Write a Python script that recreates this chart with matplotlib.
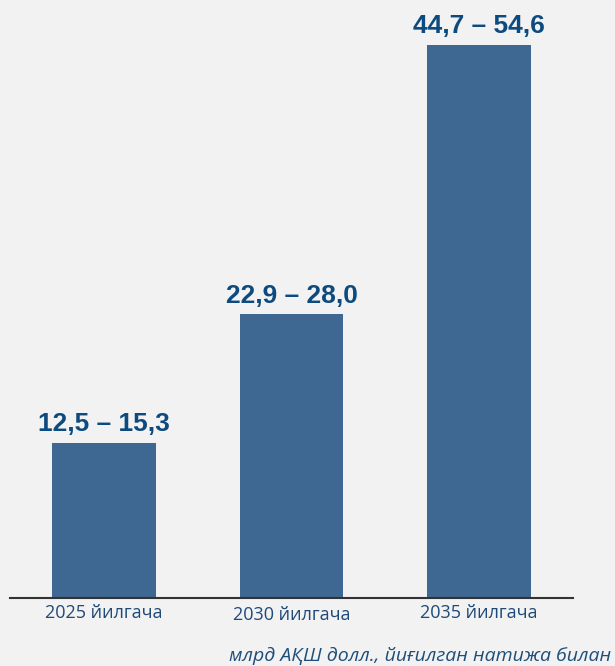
import matplotlib.pyplot as plt

categories = ["2025 йилгача", "2030 йилгача", "2035 йилгача"]
low_values = [12.5, 22.9, 44.7]
high_values = [15.3, 28.0, 54.6]
note = "млрд АҚШ долл., йиғилган натижа билан"

bg = "#F2F2F2"
bar_color = "#3E6891"
label_color = "#0D4A7E"
tick_color = "#1F4A78"

fig = plt.figure(figsize=(6.15, 6.66), dpi=100, facecolor=bg)
# axes placed in pixel terms: line from x=10 to 573, baseline at y=598
ax = fig.add_axes([10 / 615, 68 / 666, 563 / 615, 588 / 666])
ax.set_facecolor(bg)

x = list(range(len(categories)))
bars = ax.bar(x, high_values, width=0.553, color=bar_color, zorder=2)

for xi, lo, hi in zip(x, low_values, high_values):
    txt = f"{lo:.1f} – {hi:.1f}".replace(".", ",")
    ax.annotate(txt, (xi, hi), xytext=(0, 8.4), textcoords="offset points",
                ha="center", va="baseline", fontsize=19, fontweight="bold",
                color=label_color, family="Liberation Sans")

ax.set_xlim(-0.5, 2.5)
ax.set_ylim(0, 54.6 * 588 / 553)
ax.set_xticks(x)
ax.set_xticklabels(categories, fontsize=13, color=tick_color, family="Open Sans")
ax.tick_params(axis="x", length=0, pad=4)
ax.get_xticklabels()[1].set_y(-0.004)
ax.set_yticks([])

for side in ["top", "right", "left"]:
    ax.spines[side].set_visible(False)
ax.spines["bottom"].set_color("#333333")
ax.spines["bottom"].set_linewidth(1.5)

fig.text(611 / 615, 1 - 661 / 666, note, ha="right", va="baseline",
         fontsize=14, style="italic", color="#1F4E79", family="Open Sans")

fig.savefig("out.png", dpi=100, facecolor=bg)
